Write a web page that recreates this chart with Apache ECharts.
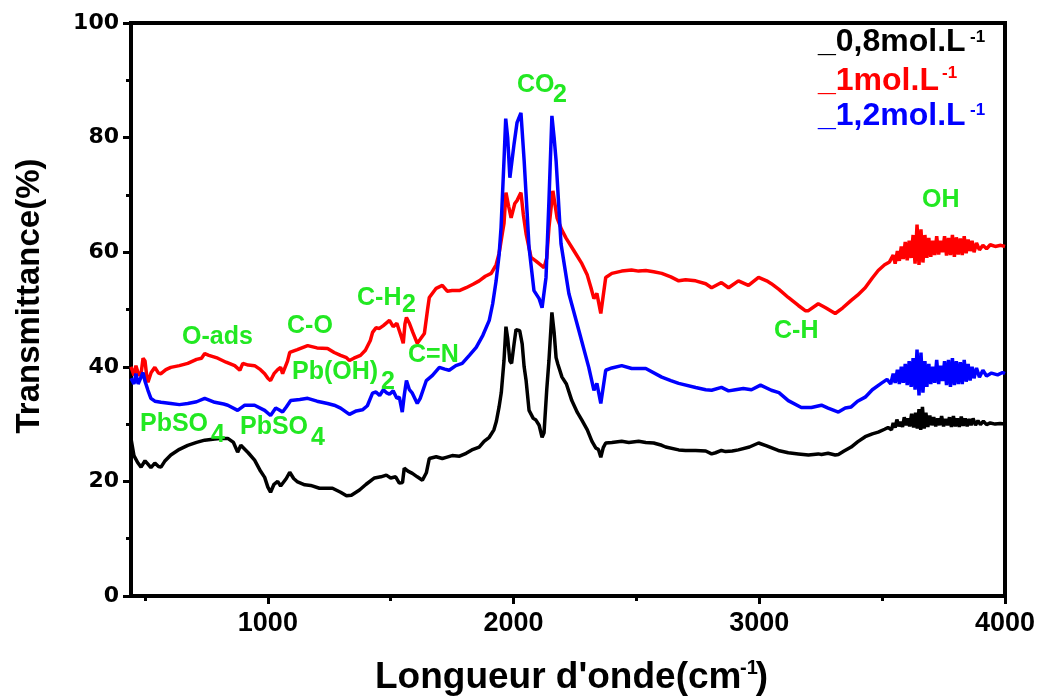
<!DOCTYPE html>
<html>
<head>
<meta charset="utf-8">
<script src="https://cdn.jsdelivr.net/npm/echarts@6/dist/echarts.min.js"></script>
<style>html,body{margin:0;padding:0;background:#fff}#c{width:1046px;height:696px}</style>
</head>
<body>
<div id="c"></div>
<script>
// ---- DATA ----
const seriesNames = ['_0,8mol.L', '_1mol.L', '_1,2mol.L'];
const xTickLabels = [1000, 2000, 3000, 4000];
const xMinorTicks = [500, 1500, 2500, 3500];
const yTicks = [0, 20, 40, 60, 80, 100];

const s08 = [[443,27.5],[455,24.5],[470,23.3],[484,22.5],[500,23.6],[512,23.0],[524,22.4],[540,23.2],[555,22.6],[565,22.5],[580,23.5],[605,24.6],[640,25.6],[674,26.3],[710,26.8],[743,27.2],[784,27.4],[804,27.5],[837,27.5],[860,26.8],[877,25.1],[890,26.3],[898,26.2],[920,25.0],[946,23.7],[970,21.8],[987,20.7],[1000,19.0],[1011,18.1],[1025,19.5],[1040,20.0],[1052,19.2],[1060,19.0],[1075,20.5],[1089,21.6],[1105,20.5],[1121,19.9],[1150,19.4],[1174,19.3],[1210,18.8],[1263,18.8],[1296,18.1],[1320,17.5],[1340,17.6],[1373,18.5],[1400,19.5],[1434,20.6],[1460,20.8],[1482,21.1],[1500,20.6],[1520,20.8],[1535,19.7],[1548,19.8],[1555,22.3],[1570,21.8],[1588,21.4],[1608,20.8],[1629,20.2],[1645,21.5],[1657,24.0],[1685,24.3],[1710,24.0],[1726,24.2],[1750,24.5],[1780,24.4],[1807,24.9],[1830,25.5],[1860,26.0],[1880,27.0],[1901,27.7],[1920,29.0],[1930,30.5],[1941,33.0],[1950,35.5],[1961,41.1],[1969,47.0],[1976,45.0],[1985,41.0],[1992,40.6],[2002,44.0],[2010,46.5],[2025,46.3],[2035,44.0],[2043,40.0],[2051,37.6],[2063,32.4],[2080,31.0],[2091,30.7],[2104,29.8],[2116,27.7],[2124,28.5],[2135,36.0],[2144,41.1],[2156,49.5],[2165,46.0],[2173,41.6],[2180,40.5],[2197,38.2],[2215,37.0],[2237,34.1],[2260,32.0],[2278,30.7],[2300,29.0],[2319,27.0],[2335,25.8],[2345,25.6],[2355,24.2],[2365,25.9],[2375,26.7],[2400,26.8],[2440,27.0],[2469,26.8],[2509,27.0],[2538,26.8],[2570,26.7],[2603,26.3],[2619,26.0],[2672,25.5],[2700,25.4],[2741,25.4],[2782,25.3],[2806,24.8],[2822,25.0],[2846,25.4],[2863,25.2],[2890,25.3],[2915,25.5],[2960,26.0],[2997,26.7],[3030,26.2],[3077,25.4],[3118,25.0],[3159,24.8],[3200,24.6],[3240,24.8],[3253,24.7],[3280,24.9],[3309,24.6],[3322,24.7],[3345,25.3],[3374,26.0],[3400,26.9],[3431,27.8],[3460,28.3],[3484,28.6],[3510,29.1],[3524,29.4],[3538,29.0],[3545,30.2],[3553,29.4],[3560,30.8],[3568,29.6],[3575,30.4],[3583,29.5],[3590,31.2],[3597,29.8],[3604,31.0],[3612,29.6],[3620,31.8],[3628,29.4],[3636,32.0],[3643,29.2],[3650,32.6],[3657,29.0],[3664,33.0],[3671,29.2],[3678,32.0],[3686,29.5],[3694,31.5],[3702,29.8],[3710,31.2],[3718,29.6],[3726,31.0],[3734,29.8],[3742,31.4],[3750,29.6],[3758,30.9],[3766,29.8],[3774,31.2],[3782,29.5],[3790,31.4],[3798,29.6],[3806,31.0],[3814,29.5],[3822,31.3],[3830,29.7],[3838,31.0],[3846,29.6],[3854,30.9],[3862,29.8],[3870,31.0],[3880,29.8],[3890,30.6],[3900,29.9],[3912,30.5],[3925,29.9],[3940,30.2],[3960,30.0],[3980,30.1],[4000,30.0]];

const s10 = [[443,40.0],[455,38.5],[463,40.2],[475,38.5],[484,38.8],[492,41.5],[500,41.0],[508,38.0],[512,37.3],[525,39.0],[540,39.9],[555,38.9],[565,38.8],[585,39.5],[605,39.9],[640,40.2],[674,40.6],[710,41.3],[730,41.5],[743,42.3],[760,42.0],[796,41.5],[830,40.8],[865,40.2],[886,39.4],[898,40.6],[920,40.3],[946,40.2],[970,39.5],[987,38.8],[1000,38.0],[1011,37.6],[1025,38.8],[1040,39.5],[1052,39.9],[1060,38.8],[1068,39.0],[1080,41.0],[1089,42.5],[1120,43.0],[1162,43.7],[1200,43.3],[1243,43.2],[1270,42.5],[1296,42.0],[1320,41.6],[1332,41.1],[1350,41.5],[1377,42.0],[1397,42.9],[1417,44.6],[1426,46.0],[1440,46.8],[1454,46.7],[1470,47.2],[1495,48.1],[1510,47.0],[1525,47.6],[1535,46.3],[1545,45.0],[1551,44.1],[1558,47.5],[1564,48.6],[1576,47.6],[1590,46.0],[1608,44.1],[1620,44.8],[1637,45.8],[1650,50.0],[1657,52.1],[1685,53.7],[1710,54.2],[1730,53.2],[1750,53.3],[1779,53.3],[1807,53.8],[1835,54.4],[1860,55.0],[1885,55.8],[1909,56.3],[1929,57.8],[1941,59.8],[1955,63.5],[1961,65.0],[1969,70.4],[1980,68.0],[1990,66.0],[2005,68.5],[2014,69.0],[2030,70.4],[2040,66.5],[2051,63.2],[2071,59.1],[2090,58.5],[2104,58.0],[2124,57.3],[2135,59.0],[2144,64.3],[2160,70.7],[2168,68.5],[2177,66.0],[2195,64.0],[2213,62.5],[2245,60.3],[2278,58.0],[2300,56.0],[2315,53.8],[2327,51.9],[2339,52.8],[2355,49.3],[2375,55.6],[2400,56.3],[2440,56.7],[2480,56.9],[2509,56.7],[2538,56.8],[2570,56.6],[2603,56.3],[2640,55.7],[2672,55.0],[2700,55.2],[2741,55.0],[2782,54.5],[2806,53.8],[2846,54.7],[2875,53.8],[2915,55.0],[2956,54.2],[2997,55.6],[3030,55.0],[3049,54.5],[3080,53.5],[3118,52.1],[3159,50.7],[3187,49.8],[3200,49.8],[3240,51.0],[3270,50.3],[3309,49.3],[3340,50.3],[3374,51.6],[3400,52.5],[3431,53.8],[3460,55.5],[3484,56.8],[3510,57.8],[3530,58.3],[3545,59.5],[3553,58.0],[3562,60.2],[3570,58.5],[3578,61.0],[3586,58.8],[3594,61.8],[3602,58.6],[3610,62.0],[3618,59.0],[3626,63.0],[3634,58.0],[3642,64.8],[3650,57.8],[3658,64.0],[3666,58.2],[3674,63.0],[3682,59.0],[3690,62.5],[3698,59.2],[3706,62.0],[3714,59.5],[3722,62.8],[3730,59.6],[3738,62.0],[3746,60.0],[3754,62.8],[3762,59.4],[3770,62.5],[3778,59.5],[3786,63.0],[3794,59.2],[3802,62.6],[3810,59.6],[3818,62.4],[3826,59.5],[3834,62.8],[3842,59.8],[3850,62.2],[3858,60.2],[3866,62.0],[3874,60.0],[3884,61.6],[3896,60.4],[3910,61.2],[3925,60.6],[3940,61.3],[3960,61.0],[3983,61.2],[4000,61.0]];

const s12 = [[443,38.0],[455,37.0],[463,38.8],[472,37.0],[480,37.1],[492,39.0],[500,37.5],[512,35.9],[524,34.5],[540,34.0],[565,33.8],[605,33.6],[640,33.4],[674,33.6],[710,33.9],[743,34.5],[784,33.8],[820,33.5],[837,33.3],[877,32.4],[906,33.3],[946,33.3],[987,32.4],[1011,31.5],[1032,32.8],[1045,32.5],[1060,32.1],[1075,33.0],[1093,34.1],[1130,34.3],[1162,34.5],[1200,34.0],[1243,33.6],[1270,33.3],[1296,32.8],[1332,31.7],[1360,32.3],[1385,32.5],[1405,33.2],[1426,35.4],[1440,35.6],[1455,35.0],[1470,36.0],[1482,35.5],[1495,35.2],[1510,35.8],[1525,34.5],[1535,34.7],[1547,32.1],[1555,35.0],[1564,37.6],[1576,36.0],[1588,35.4],[1608,33.6],[1620,34.5],[1645,37.6],[1670,38.5],[1698,39.9],[1720,39.6],[1738,39.4],[1765,40.2],[1791,40.6],[1820,42.0],[1848,43.4],[1875,45.5],[1901,48.1],[1915,51.0],[1929,55.0],[1941,59.5],[1949,64.3],[1961,76.0],[1968,83.3],[1976,80.0],[1985,73.0],[1990,72.8],[2002,78.9],[2014,82.6],[2030,84.3],[2043,76.0],[2055,67.0],[2063,60.8],[2083,53.3],[2104,51.9],[2116,50.3],[2132,55.6],[2144,69.0],[2156,83.8],[2165,80.0],[2173,76.0],[2193,61.5],[2225,52.8],[2266,46.3],[2306,39.9],[2327,35.9],[2339,37.1],[2355,33.6],[2375,39.4],[2400,39.8],[2440,40.2],[2481,39.7],[2538,39.7],[2603,38.2],[2640,37.6],[2672,37.1],[2741,36.4],[2782,36.0],[2806,35.9],[2846,36.4],[2875,35.8],[2903,36.0],[2935,36.2],[2968,36.0],[3005,36.8],[3049,35.9],[3080,35.5],[3118,34.1],[3171,32.9],[3212,32.9],[3253,33.3],[3280,32.8],[3309,32.3],[3322,32.1],[3350,32.8],[3374,33.0],[3400,34.0],[3431,34.7],[3460,36.0],[3496,37.1],[3520,37.8],[3535,37.0],[3545,38.8],[3553,37.2],[3562,39.5],[3570,37.0],[3578,40.0],[3586,37.2],[3594,40.5],[3602,36.8],[3610,41.0],[3618,36.5],[3626,41.5],[3634,36.0],[3642,43.0],[3650,35.0],[3658,42.5],[3666,35.5],[3674,41.0],[3682,36.5],[3690,40.5],[3698,37.0],[3706,40.0],[3714,37.2],[3722,41.2],[3730,37.0],[3738,40.2],[3746,37.5],[3754,41.0],[3762,36.8],[3770,41.2],[3778,36.5],[3786,41.5],[3794,36.8],[3802,41.0],[3810,37.0],[3818,40.8],[3826,37.0],[3834,41.2],[3842,37.4],[3850,40.5],[3858,37.6],[3866,40.0],[3874,38.0],[3884,39.8],[3896,38.2],[3910,39.4],[3925,38.4],[3945,38.9],[3970,38.6],[3990,39.0],[4000,38.8]];

// ---- CHART ----
const colors = ['#000000', '#ff0000', '#0000ff'];
const green = '#22e822';
const F = '"Liberation Sans", Arial, sans-serif';

function txt(text, x, y, size, color, align) {
  return {
    type: 'text', x: x, y: y, z: 100,
    style: { text: text, fill: color, font: 'bold ' + size + 'px ' + F, textAlign: align || 'left', textVerticalAlign: 'middle' }
  };
}

const annotations = [
  ['O-ads', 182, 337], ['C-O', 287, 326], ['Pb(OH)', 292, 372], ['2', 381, 382],
  ['C=N', 408, 355], ['C-H', 357, 298], ['2', 402, 305],
  ['PbSO', 140, 424], ['4', 211, 435], ['PbSO', 240, 427], ['4', 311, 438],
  ['CO', 517, 85], ['2', 553, 95], ['OH', 922, 200], ['C-H', 774, 331]
];

const graphics = [];
annotations.forEach(a => graphics.push(txt(a[0], a[1], a[2], 25, green)));
// legend
const legPos = [[818, 42, 970, 37], [818, 81, 942, 73], [818, 116, 970, 110]];
seriesNames.forEach((n, i) => {
  graphics.push(txt(n, legPos[i][0], legPos[i][1], 32, colors[i]));
  graphics.push(txt('-1', legPos[i][2], legPos[i][3], 17, colors[i]));
});
// axis titles
graphics.push(txt("Longueur d'onde(cm", 375, 678, 37, '#000'));
graphics.push(txt('-1', 740, 668, 20, '#000'));
graphics.push(txt(')', 768, 678, 37, '#000', 'right'));
graphics.push({
  type: 'text', x: 30, y: 296, rotation: Math.PI / 2, z: 100,
  style: { text: 'Transmittance(%)', fill: '#000', font: 'bold 33px ' + F, textAlign: 'center', textVerticalAlign: 'middle' }
});

const chart = echarts.init(document.getElementById('c'));
chart.setOption({
  animation: false,
  backgroundColor: '#fff',
  grid: { left: 131, right: 41, top: 23, bottom: 100, show: true, borderColor: '#000', borderWidth: 4, backgroundColor: 'transparent' },
  xAxis: [{
    type: 'value', min: 443, max: 4000, position: 'bottom',
    axisLine: { show: true, lineStyle: { color: '#000', width: 4 } },
    axisTick: { show: true, customValues: xTickLabels, length: 8, lineStyle: { color: '#000', width: 3 } },
    axisLabel: { customValues: xTickLabels, formatter: v => String(v), color: '#000', fontFamily: F, fontWeight: 'bold', fontSize: 27, margin: 14 },
    splitLine: { show: false }
  }, {
    type: 'value', min: 443, max: 4000, position: 'bottom',
    axisLine: { show: false },
    axisTick: { show: true, customValues: xMinorTicks, length: 5, lineStyle: { color: '#000', width: 3 } },
    axisLabel: { show: false },
    splitLine: { show: false }
  }],
  yAxis: {
    type: 'value', min: 0, max: 100, interval: 20,
    axisLine: { show: true, lineStyle: { color: '#000', width: 4 } },
    axisTick: { show: true, length: 8, lineStyle: { color: '#000', width: 3 } },
    minorTick: { show: true, splitNumber: 2, length: 5, lineStyle: { color: '#000', width: 3 } },
    axisLabel: { color: '#000', fontFamily: '"DejaVu Sans", sans-serif', fontWeight: 'bold', fontSize: 22, margin: 12 },
    splitLine: { show: false }
  },
  series: [s08, s10, s12].map((d, i) => ({
    name: seriesNames[i], type: 'line', data: d, xAxisIndex: 0, showSymbol: false,
    lineStyle: { color: colors[i], width: 3.5 }, itemStyle: { color: colors[i] }, z: 2 + i
  })),
  graphic: graphics
});
</script>
</body>
</html>
